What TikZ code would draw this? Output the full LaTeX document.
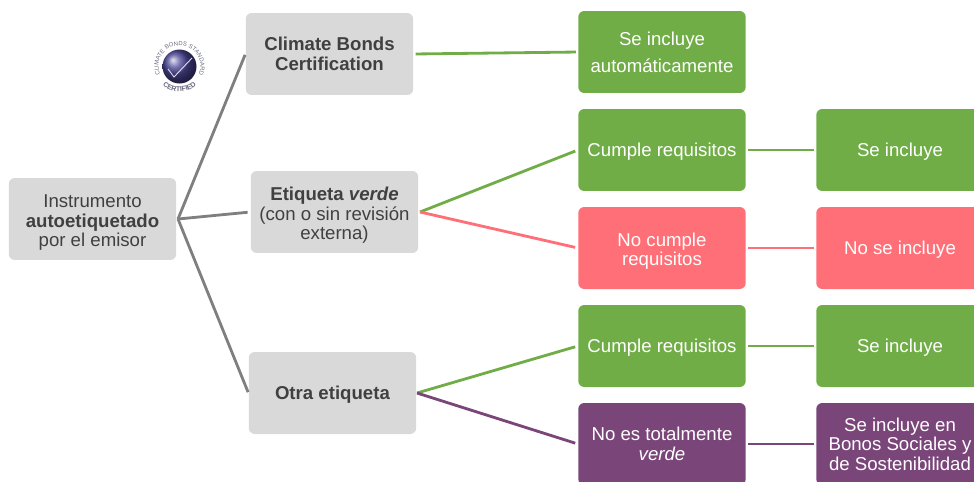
\documentclass[tikz,border=0pt]{standalone}
\usepackage{fontspec}
\setmainfont{Liberation Sans}
\usetikzlibrary{decorations.text}
\definecolor{boxgray}{HTML}{D9D9D9}
\definecolor{inkgray}{HTML}{404040}
\definecolor{linegray}{HTML}{7F7F7F}
\definecolor{okgreen}{HTML}{70AD47}
\definecolor{nopink}{HTML}{FF6F77}
\definecolor{halfpurple}{HTML}{7A4579}
\definecolor{sealblue}{HTML}{4A4596}
\definecolor{sealink}{HTML}{6A6A80}
\newcommand{\topgap}{\rule{0pt}{11.5pt}}
\tikzset{
  basebox/.style={rounded corners=0.12cm,minimum width=3.35cm,minimum height=1.64cm,
    align=center,inner sep=0pt,font=\fontsize{10.6}{11.1}\selectfont,
    execute at begin node={\rule{0pt}{10pt}}},
  graybox/.style={basebox,fill=boxgray,text=inkgray},
  greenbox/.style={basebox,fill=okgreen,text=white},
  pinkbox/.style={basebox,fill=nopink,text=white},
  purplebox/.style={basebox,fill=halfpurple,text=white},
  link/.style={line width=1.6pt,shorten <=1.1pt,shorten >=1.1pt},
  fork/.style={line width=1.6pt,shorten >=1.6pt},
  steepfork/.style={line width=1.6pt,shorten >=0.5pt}
}
\begin{document}
\begin{tikzpicture}[x=0.02cm,y=-0.02cm]
  \useasboundingbox (0,0) rectangle (974,481);
  \clip (0,0) rectangle (974,481);

  \node [graybox] (root) at (92.5,219) {\topgap Instrumento\\\textbf{autoetiquetado}\\por el emisor};

  \node [graybox] (cbi) at (329.5,54) {\textbf{Climate Bonds}\\\textbf{Certification}};
  \node [graybox] (verde) at (334.5,212) {\topgap\textbf{Etiqueta \textit{verde}}\\(con o sin revisión\\externa)};
  \node [graybox] (otra) at (332.5,393) {\textbf{Otra etiqueta}};

  \node [greenbox] (auto) at (662,52) {Se incluye\\[4.2pt]automáticamente};
  \node [greenbox] (cumple1) at (662,150) {Cumple requisitos};
  \node [pinkbox] (nocumple) at (662,248) {\topgap No cumple\\requisitos};
  \node [greenbox] (cumple2) at (662,346) {Cumple requisitos};
  \node [purplebox] (nototal) at (662,444) {No es totalmente\\\textit{verde}};

  \node [greenbox] (incl1) at (900,150) {Se incluye};
  \node [pinkbox] (noincl) at (900,248) {No se incluye};
  \node [greenbox] (incl2) at (900,346) {Se incluye};
  \node [purplebox] (social) at (900,444) {Se incluye en\\Bonos Sociales y\\de Sostenibilidad};

  \coordinate (rootfork) at (178,219);
  \coordinate (verdefork) at (420,212);
  \coordinate (otrafork) at (417,393);

  \draw [steepfork,linegray] (rootfork) -- (cbi.west);
  \draw [fork,linegray] (rootfork) -- (verde.west);
  \draw [steepfork,linegray] (rootfork) -- (otra.west);

  \draw [link,okgreen] (cbi.east) -- (auto.west);
  \draw [fork,okgreen] (verdefork) -- (cumple1.west);
  \draw [fork,nopink] (verdefork) -- (nocumple.west);
  \draw [fork,okgreen] (otrafork) -- (cumple2.west);
  \draw [fork,halfpurple] (otrafork) -- (nototal.west);

  \draw [link,okgreen] (cumple1.east) -- (incl1.west);
  \draw [link,nopink] (nocumple.east) -- (noincl.west);
  \draw [link,okgreen] (cumple2.east) -- (incl2.west);
  \draw [link,halfpurple] (nototal.east) -- (social.west);

  % seal
  \coordinate (seal) at (179.5,66.5);
  \shade [ball color=sealblue] (seal) circle (17);
  \draw [white!85!sealblue,line width=0.5pt] (168,69) -- (174,77) -- (192,58);
  \path [postaction={decorate,decoration={text along path,text align=center,
      text={|\fontsize{3.4}{4}\selectfont\color{sealink}|CLIMATE BONDS STANDARD}}}]
    (seal) ++(140:21) arc [start angle=140,end angle=400,radius=21];
  \path [postaction={decorate,decoration={text along path,text align=center,
      text={|\fontsize{4}{5}\selectfont\bfseries\color{sealink}|CERTIFIED}}}]
    (seal) ++(130:25) arc [start angle=130,end angle=50,radius=25];
\end{tikzpicture}
\end{document}
